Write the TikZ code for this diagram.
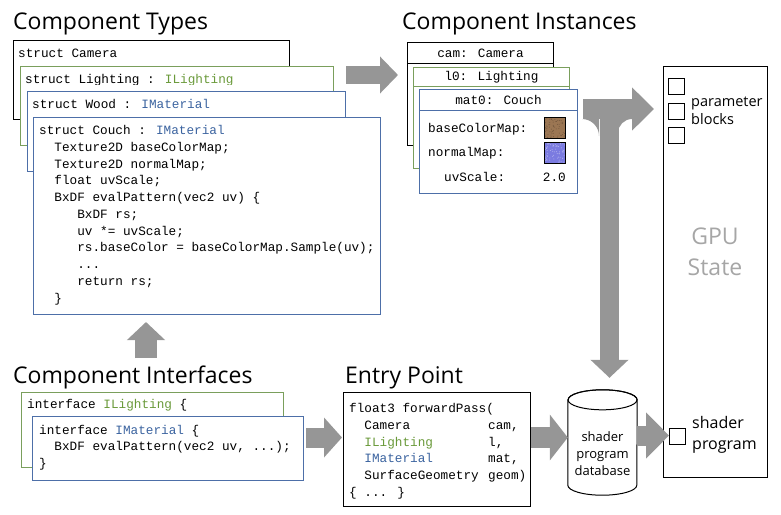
\documentclass[tikz,border=0pt]{standalone}
\usepackage{fontspec}
\setmainfont{Open Sans}
\newfontfamily\codefont{Liberation Mono}
\usetikzlibrary{shapes.geometric, arrows.meta, positioning, calc}
\definecolor{ilgreen}{RGB}{106,154,58}
\definecolor{imblue}{RGB}{60,100,160}
\definecolor{boxgreen}{RGB}{122,159,92}
\definecolor{boxblue}{RGB}{77,111,168}
\definecolor{arrowgray}{RGB}{150,150,150}
\definecolor{gpugray}{RGB}{166,166,166}
\definecolor{woodtex}{RGB}{155,118,83}
\definecolor{bumptex}{RGB}{123,123,224}
\newcommand{\ctab}{\phantom{xx}}

\begin{document}
\begin{tikzpicture}[x=1pt,y=-1pt,
  typebox/.style={draw, fill=white, line width=1pt, inner sep=0, anchor=north west},
  header/.style={typebox, font=\codefont\fontsize{12.7}{15}\selectfont},
  code/.style={font=\codefont\fontsize{12.7}{16.75}\selectfont, align=left, inner sep=0, anchor=base west},
  title/.style={font=\fontsize{23}{28}\selectfont, inner sep=0, anchor=base west},
  swatch/.style={draw, line width=0.8pt, minimum size=21pt, inner sep=0, anchor=north west},
  slot/.style={draw, line width=0.8pt, minimum size=16pt, inner sep=0, anchor=north west},
  bigarrow/.style={line width=20pt, draw=arrowgray, -{Triangle[length=18pt, width=40pt]}}]
\useasboundingbox (0,0) rectangle (781,514);
\pgfmathsetseed{7}

\node[title] (typesT) at (13,29) {Component Types};
\node[title] (instT) at (402,29) {Component Instances};
\node[title] (ifaceT) at (13,383) {Component Interfaces};
\node[title] (entryT) at (345,383) {Entry Point};

% component types (multi-line code nodes sit on their last line)
\node[typebox, minimum width=276pt, minimum height=79pt] (camera) at (13,40) {};
\node[code] (cameraC) at (18,57.5) {struct Camera};
\node[typebox, draw=boxgreen, minimum width=313pt, minimum height=79pt] (lighting) at (20,66) {};
\node[code] (lightingC) at (25,83.5) {struct Lighting : \textcolor{ilgreen}{ILighting}};
\fill[white] (27.5,84.5) rectangle (331.5,90.5);
\node[typebox, draw=boxblue, minimum width=318pt, minimum height=80pt] (wood) at (27,91) {};
\node[code] (woodC) at (32,108.5) {struct Wood : \textcolor{imblue}{IMaterial}};
\node[typebox, draw=boxblue, minimum width=347pt, minimum height=197pt] (couch) at (33,117) {};
\node[code] (couchC) at (39,302) {struct Couch : \textcolor{imblue}{IMaterial}\\
\ctab Texture2D baseColorMap;\\
\ctab Texture2D normalMap;\\
\ctab float uvScale;\\
\ctab BxDF evalPattern(vec2 uv) \{\\
\phantom{xxxxx}BxDF rs;\\
\phantom{xxxxx}uv *= uvScale;\\
\phantom{xxxxx}rs.baseColor = baseColorMap.Sample(uv);\\
\phantom{xxxxx}...\\
\phantom{xxxxx}return rs;\\
\ctab\}};

% component instances
\node[typebox, minimum width=146pt, minimum height=103pt] (cam) at (407,42) {};
\node[header, minimum width=146pt, minimum height=21pt] (camH) at (407,42) {cam: Camera};
\node[typebox, draw=boxgreen, minimum width=156pt, minimum height=101pt] (l0) at (413,67) {};
\node[header, draw=boxgreen, minimum width=156pt, minimum height=19pt] (l0H) at (413,67) {l0: Lighting};
\node[typebox, draw=boxblue, minimum width=158pt, minimum height=104pt] (mat0) at (419,89) {};
\node[header, draw=boxblue, minimum width=158pt, minimum height=21pt] (mat0H) at (419,89) {mat0: Couch};
\node[code] (baseC) at (428,132.5) {baseColorMap:};
\node[swatch, fill=woodtex] (baseS) at (544,117) {};
\node[code] (normalC) at (428,156.5) {normalMap:};
\node[swatch, fill=bumptex] (normalS) at (544,142) {};
\begin{scope}
\clip (baseS.north west) rectangle (baseS.south east);
\foreach \i in {1,...,70}
  \fill[woodtex!75!black] ($(baseS.north west)+(rnd*21,rnd*21)$) circle (0.5pt);
\end{scope}
\begin{scope}
\clip (normalS.north west) rectangle (normalS.south east);
\foreach \i in {1,...,70}
  \fill[bumptex!55!white] ($(normalS.north west)+(rnd*21,rnd*21)$) circle (0.5pt);
\end{scope}
\node[swatch] at (baseS.north west) {};
\node[swatch] at (normalS.north west) {};
\node[code] (scaleC) at (444,181) {uvScale:};
\node[code, anchor=base east] (scaleV) at (566,181) {2.0};

% gpu state
\node[typebox, minimum width=104pt, minimum height=411pt] (gpu) at (663,66) {};
\node[slot] (pb1) at (668,78) {};
\node[slot] (pb2) at (668,103) {};
\node[slot] (pb3) at (668,127) {};
\node[anchor=west, inner sep=0, align=left, font=\fontsize{14.5}{18}\selectfont] (pbT) at (691,111) {parameter\\blocks};
\node[align=center, text=gpugray, font=\fontsize{23}{31}\selectfont] (gpuT) at (715,252) {GPU\\State};
\node[slot] (shader) at (669,428) {};
\node[anchor=west, inner sep=0, align=left, font=\fontsize{16}{21}\selectfont] (shaderT) at (692,435) {shader\\program};

% interfaces
\node[typebox, draw=boxgreen, minimum width=262pt, minimum height=75pt] (ilight) at (21,392) {};
\node[code] (ilightC) at (27,408.5) {interface \textcolor{ilgreen}{ILighting} \{};
\node[typebox, draw=boxblue, minimum width=271pt, minimum height=64pt] (imat) at (32,416) {};
\node[code] (imatC) at (39,467.5) {interface \textcolor{imblue}{IMaterial} \{\\
\ctab BxDF evalPattern(vec2 uv, ...);\\
\}};

% entry point
\node[typebox, minimum width=187pt, minimum height=114pt] (entry) at (343,392) {};
\node[code] (entryC) at (349,496.25) {float3 forwardPass(\\
\ctab Camera\\
\ctab\textcolor{ilgreen}{ILighting}\\
\ctab\textcolor{imblue}{IMaterial}\\
\ctab SurfaceGeometry\\
\{ ... \}};
\node[code] (entryA) at (488,479.5) {cam,\\l,\\mat,\\geom)};

% database
\node[minimum width=69pt, minimum height=105pt, inner sep=0] (db) at (602.5,442.5) {};
\draw[line width=1pt, fill=white] ([yshift=-10pt]db.north west) -- ([yshift=10pt]db.south west)
  arc[start angle=180, end angle=360, x radius=34.5pt, y radius=10pt] -- ([yshift=-10pt]db.north east)
  arc[start angle=0, end angle=180, x radius=34.5pt, y radius=10pt];
\draw[line width=1pt] ([yshift=-10pt]db.north) ellipse [x radius=34.5pt, y radius=10pt];
\node[align=center, inner sep=0, font=\fontsize{13}{17}\selectfont] (dbT) at (602.5,454) {shader\\program\\database};

% arrows
\coordinate (typesOut) at ([yshift=16pt]wood.north east);
\draw[bigarrow, line width=18pt, -{Triangle[length=18pt, width=36pt]}, shorten >=9pt] (typesOut) -- (typesOut -| cam.west);
\coordinate (ifaceOut) at (146,358);
\draw[bigarrow, line width=22pt, -{Triangle[length=18pt, width=37pt]}, shorten >=7pt] (ifaceOut) -- (ifaceOut |- couch.south);
\coordinate (ifaceRight) at ([yshift=11pt]imat.east);
\draw[bigarrow, -{Triangle[length=18pt, width=39pt]}, shorten <=2pt, shorten >=1pt] (ifaceRight) -- (ifaceRight -| entry.west);
\coordinate (entryOut) at ([yshift=12pt]entry.east);
\draw[bigarrow, line width=21pt, -{Triangle[length=18pt, width=45pt]}] (entryOut) -- (entryOut -| db.west);
\coordinate (dbOut) at ([yshift=7pt]db.east);
\draw[bigarrow, -{Triangle[length=23pt, width=45pt]}] (dbOut) -- (dbOut -| shader.west);
\coordinate (matOut) at ([yshift=-20pt]mat0.north east);
\draw[bigarrow, -{Triangle[length=22pt, width=42pt]}, shorten <=5pt, shorten >=9pt] (matOut) -- (matOut -| gpu.west);
\coordinate (split) at ($(matOut)+(31.5,-9)$);
\draw[bigarrow, line width=19pt, -{Triangle[length=18pt, width=37pt]}, shorten >=12pt] (split) -- (split |- db.north);
\fill[arrowgray] (582,119) -- (599,119) -- (599,136) .. controls (599,126.6) and (591.4,119) .. (582,119) -- cycle;
\fill[arrowgray] (618,133) -- (618,119) -- (632,119) .. controls (624.3,119) and (618,125.3) .. (618,133) -- cycle;
\end{tikzpicture}
\end{document}
